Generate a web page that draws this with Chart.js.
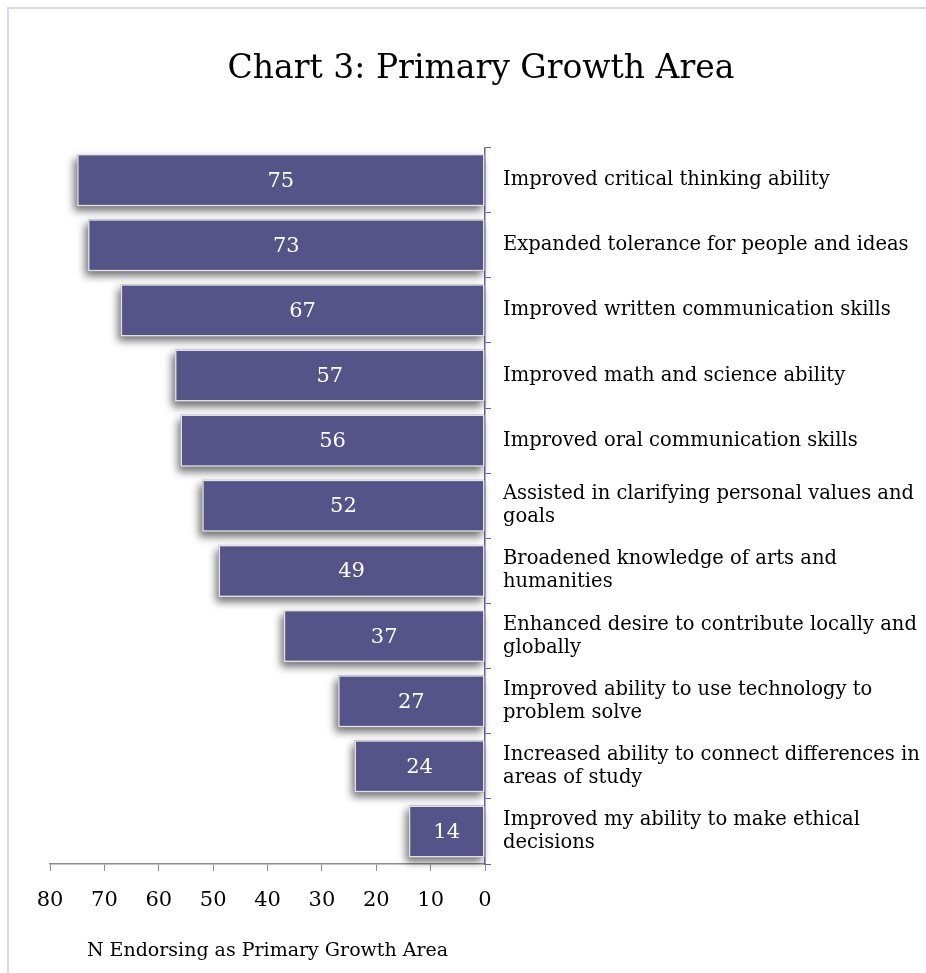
<!DOCTYPE html>
<html>
<head>
<meta charset="utf-8">
<script src="https://cdn.jsdelivr.net/npm/chart.js@4.4.1/dist/chart.umd.min.js"></script>
<style>
  html, body { margin: 0; padding: 0; background: #ffffff; overflow: hidden; }
  body { width: 926px; height: 973px; position: relative; }
  .frame {
    position: absolute; left: 7px; top: 7px; width: 1000px; height: 1000px;
    border-left: 2px solid #d9d9e9; border-top: 2px solid #d9d9e9;
  }
  .wrap { position: absolute; left: 36px; top: 0; width: 890px; height: 973px; }
</style>
</head>
<body>
<div class="frame"></div>
<div class="wrap"><canvas id="chart" width="890" height="973"></canvas></div>
<script>
// Growth areas, largest first
const categories = [
  ["Improved critical thinking ability"],
  ["Expanded tolerance for people and ideas"],
  ["Improved written communication skills"],
  ["Improved math and science ability"],
  ["Improved oral communication skills"],
  ["Assisted in clarifying personal values and", "goals"],
  ["Broadened knowledge of arts and", "humanities"],
  ["Enhanced desire to contribute locally and", "globally"],
  ["Improved ability to use technology to", "problem solve"],
  ["Increased ability to connect differences in", "areas of study"],
  ["Improved my ability to make ethical", "decisions"]
];
const endorsements = [75, 73, 67, 57, 56, 52, 49, 37, 27, 24, 14];
const xTicks = [80, 70, 60, 50, 40, 30, 20, 10, 0];

const FONT = "'DejaVu Serif', serif";

// Keep the title box centred on the whole canvas, ignoring the left padding
const centerTitle = {
  id: 'centerTitle',
  afterLayout(chart) {
    const t = chart.titleBlock;
    if (!t) return;
    const w = t.right - t.left;
    t.left = (chart.width - w) / 2;
    t.right = t.left + w;
  }
};

// Soft drop shadow painted beneath each bar before the bars themselves
const barShadow = {
  id: 'barShadow',
  beforeDatasetsDraw(chart) {
    const ctx = chart.ctx;
    const meta = chart.getDatasetMeta(0);
    ctx.save();
    ctx.shadowColor = 'rgba(0,0,0,0.55)';
    ctx.shadowBlur = 8;
    ctx.shadowOffsetX = -3;
    ctx.shadowOffsetY = 5;
    ctx.fillStyle = '#9a9a9a';
    meta.data.forEach(bar => {
      const { x, y, base, height } = bar.getProps(['x', 'y', 'base', 'height'], true);
      const left = Math.min(x, base), right = Math.max(x, base);
      ctx.fillRect(left, y - height / 2, right - left, height);
    });
    ctx.restore();
  }
};

// Count printed in the middle of each bar
const barValues = {
  id: 'barValues',
  afterDatasetsDraw(chart) {
    const ctx = chart.ctx;
    const meta = chart.getDatasetMeta(0);
    ctx.save();
    ctx.fillStyle = '#ffffff';
    ctx.font = "21px " + FONT;
    ctx.textAlign = 'center';
    ctx.textBaseline = 'middle';
    meta.data.forEach((bar, i) => {
      const cx = (bar.x + bar.base) / 2;
      ctx.fillText(String(chart.data.datasets[0].data[i]), cx, bar.y + 1);
    });
    ctx.restore();
  }
};

new Chart(document.getElementById('chart'), {
  type: 'bar',
  data: {
    labels: categories,
    datasets: [{
      data: endorsements,
      backgroundColor: '#545489',
      borderColor: '#e2e2e6',
      borderWidth: 1.5,
      borderSkipped: false,
      barPercentage: 0.8,
      categoryPercentage: 1.0
    }]
  },
  options: {
    indexAxis: 'y',
    responsive: false,
    animation: false,
    events: [],
    layout: { padding: { left: 14, right: 0, top: 0, bottom: 11 } },
    plugins: {
      legend: { display: false },
      tooltip: { enabled: false },
      title: {
        display: true,
        text: 'Chart 3: Primary Growth Area',
        color: '#000000',
        font: { family: FONT, size: 33, weight: 'normal' },
        padding: { top: 50, bottom: 58 }
      }
    },
    scales: {
      x: {
        reverse: true,
        min: 0,
        max: 80,
        afterBuildTicks(scale) {
          scale.ticks = xTicks.map(v => ({ value: v }));
        },
        afterFit(scale) {
          scale.paddingLeft = 0;
          scale.paddingRight = 0;
        },
        ticks: {
          color: '#000000',
          font: { family: FONT, size: 21 },
          padding: 17,
          maxRotation: 0
        },
        grid: {
          drawOnChartArea: false,
          drawTicks: true,
          tickLength: 7,
          color: '#8c8c8c'
        },
        border: { display: true, color: '#8c8c8c', width: 1.5 },
        title: {
          display: true,
          text: 'N Endorsing as Primary Growth Area',
          color: '#000000',
          font: { family: FONT, size: 19 },
          padding: { top: 9, bottom: 0 }
        }
      },
      y: {
        position: 'right',
        afterFit(scale) { scale.width = 441; },
        ticks: {
          color: '#000000',
          font: { family: FONT, size: 19.5, lineHeight: 1.18 },
          padding: 12,
          crossAlign: 'near'
        },
        grid: {
          offset: true,
          drawOnChartArea: false,
          drawTicks: true,
          tickLength: 6,
          color: '#6464a0'
        },
        border: { display: true, color: '#6464a0', width: 1.5 }
      }
    }
  },
  plugins: [centerTitle, barShadow, barValues]
});
</script>
</body>
</html>
